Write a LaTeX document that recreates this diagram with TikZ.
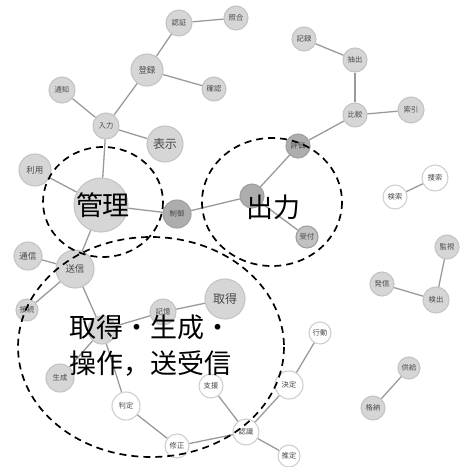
\documentclass[tikz,border=0pt]{standalone}
\usepackage{fontspec}
\setmainfont{Noto Sans CJK JP}
\definecolor{lgf}{HTML}{D6D6D6}
\definecolor{lgd}{HTML}{C4C4C4}
\definecolor{dgf}{HTML}{ADADAD}
\definecolor{dgd}{HTML}{A0A0A0}
\definecolor{mgf}{HTML}{C2C2C2}
\definecolor{wd}{HTML}{CFCFCF}
\definecolor{edgec}{HTML}{9A9A9A}
\definecolor{txt}{HTML}{4A4A4A}
\tikzset{
  base/.style={circle, line width=1.1pt, inner sep=0pt, text=txt},
  lg/.style={base, draw=lgd, fill=lgf},
  dg/.style={base, draw=dgd, fill=dgf},
  mg/.style={base, draw=dgd, fill=mgf},
  wh/.style={base, draw=wd, fill=white},
  fa/.style={font=\fontsize{7.3}{8}\selectfont},
  fb/.style={font=\fontsize{8.5}{9}\selectfont},
  fc/.style={font=\fontsize{9.5}{10}\selectfont},
  fd/.style={font=\fontsize{12}{13}\selectfont},
  link/.style={draw=edgec, line width=1.3pt},
  group/.style={draw=black, line width=1.7pt, dash pattern=on 7pt off 5pt},
  big/.style={font=\fontsize{27}{36}\selectfont, text=black, align=left}
}
\begin{document}
\begin{tikzpicture}[x=1pt,y=-1pt]
\useasboundingbox (0,0) rectangle (462,467);
% nodes
\node[lg,fa,minimum size=24] (shogo) at (236,18) {照合};
\node[lg,fa,minimum size=26] (ninsho) at (179,23) {認証};
\node[lg,fb,minimum size=32] (toroku) at (147,70) {登録};
\node[lg,fa,minimum size=24] (kakunin) at (214,89) {確認};
\node[lg,fa,minimum size=26] (tsuchi) at (62,90) {通知};
\node[lg,fa,minimum size=26] (nyuryoku) at (106,126) {入力};
\node[lg,fd,minimum size=36] (hyoji) at (165,144) {表示};
\node[lg,fa,minimum size=24] (kiroku) at (304,39) {記録};
\node[lg,fa,minimum size=24] (chushutsu) at (355,60) {抽出};
\node[lg,fa,minimum size=24] (hikaku) at (355,115) {比較};
\node[lg,fa,minimum size=26] (sakuin) at (411,110) {索引};
\node[dg,fa,minimum size=24] (hyoka) at (298,146) {評価};
\node[dg,minimum size=24] (shutsuryoku) at (252,196) {};
\node[mg,fa,minimum size=22] (uketsuke) at (307,237) {受付};
\node[dg,fa,minimum size=28] (seigyo) at (177,214) {制御};
\node[lg,minimum size=54] (kanri) at (101,205) {};
\node[lg,fb,minimum size=32] (riyo) at (35,170) {利用};
\node[lg,fb,minimum size=28] (tsushin) at (28,256) {通信};
\node[lg,fc,minimum size=38] (soshin) at (75,269) {送信};
\node[lg,fa,minimum size=22] (setsuzoku) at (27,310) {接続};
\node[lg,fa,minimum size=26] (kioku) at (163,312) {記憶};
\node[lg,fd,minimum size=40] (shutoku) at (225,299) {取得};
\node[lg,minimum size=28] (ctr) at (102,330) {};
\node[lg,fa,minimum size=28] (seisei) at (60,378) {生成};
\node[wh,fa,minimum size=28] (hantei) at (126,406) {判定};
\node[wh,fa,minimum size=24] (shusei) at (177,446) {修正};
\node[wh,fa,minimum size=24] (shien) at (211,386) {支援};
\node[wh,fa,minimum size=26] (ninshiki) at (246,432) {認識};
\node[wh,fa,minimum size=22] (suitei) at (289,456) {推定};
\node[wh,fa,minimum size=28] (kettei) at (289,385) {決定};
\node[wh,fa,minimum size=22] (kodo) at (320,333) {行動};
\node[wh,fa,minimum size=24] (kensaku) at (395,197) {検索};
\node[wh,fa,minimum size=26] (sosaku) at (435,178) {捜索};
\node[lg,fa,minimum size=24] (kanshi) at (447,247) {監視};
\node[lg,fa,minimum size=26] (kenshutsu) at (436,300) {検出};
\node[lg,fa,minimum size=24] (hasshin) at (382,284) {発信};
\node[lg,fa,minimum size=22] (kyokyu) at (409,368) {供給};
\node[lg,fa,minimum size=24] (kakuno) at (373,408) {格納};
% links
\draw[link] (ninsho) -- (shogo);
\draw[link] (ninsho) -- (toroku);
\draw[link] (toroku) -- (kakunin);
\draw[link] (toroku) -- (nyuryoku);
\draw[link] (tsuchi) -- (nyuryoku);
\draw[link] (nyuryoku) -- (hyoji);
\draw[link] (nyuryoku) -- (kanri);
\draw[link] (riyo) -- (kanri);
\draw[link] (kanri) -- (seigyo);
\draw[link] (kanri) -- (soshin);
\draw[link] (seigyo) -- (shutsuryoku);
\draw[link] (shutsuryoku) -- (uketsuke);
\draw[link] (shutsuryoku) -- (hyoka);
\draw[link] (hyoka) -- (hikaku);
\draw[link] (hikaku) -- (sakuin);
\draw[link] (hikaku) -- (chushutsu);
\draw[link] (chushutsu) -- (kiroku);
\draw[link] (soshin) -- (tsushin);
\draw[link] (soshin) -- (setsuzoku);
\draw[link] (soshin) -- (ctr);
\draw[link] (ctr) -- (kioku);
\draw[link] (kioku) -- (shutoku);
\draw[link] (ctr) -- (seisei);
\draw[link] (ctr) -- (hantei);
\draw[link] (hantei) -- (shusei);
\draw[link] (shusei) -- (ninshiki);
\draw[link] (shien) -- (ninshiki);
\draw[link] (ninshiki) -- (suitei);
\draw[link] (ninshiki) -- (kettei);
\draw[link] (kettei) -- (kodo);
\draw[link] (kensaku) -- (sosaku);
\draw[link] (kanshi) -- (kenshutsu);
\draw[link] (hasshin) -- (kenshutsu);
\draw[link] (kyokyu) -- (kakuno);
% big labels
\node[big] (lkanri) at (103,205) {管理};
\node[big] (lshutsu) at (273,207) {出力};
\node[big] (lsousa) at (151,346) {取得・生成・\\操作，送受信};
% groups
\draw[group] (103,202) ellipse [x radius=60, y radius=55];
\draw[group] (272,202) ellipse [x radius=70, y radius=64];
\draw[group] (151,347) ellipse [x radius=133, y radius=110];
\end{tikzpicture}
\end{document}
